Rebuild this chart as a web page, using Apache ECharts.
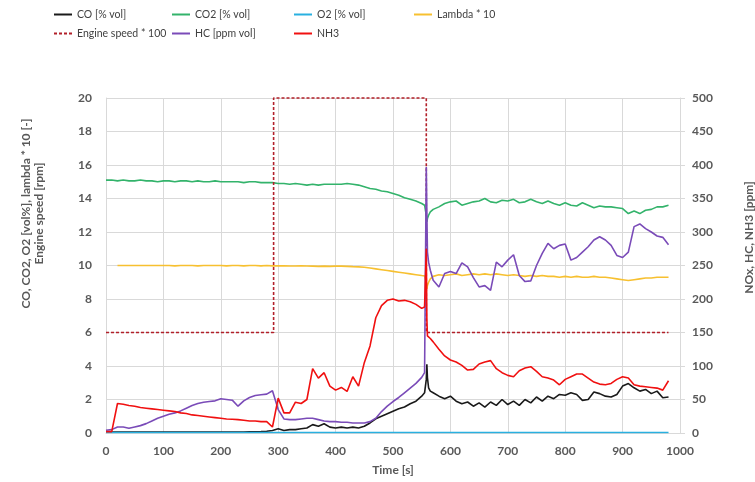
<!DOCTYPE html>
<html>
<head>
	<meta charset="utf-8" />
	<title>Emissions</title>
	<script src="https://cdn.jsdelivr.net/npm/echarts@6/dist/echarts.min.js"></script>
</head>
<body style="margin:0;background:#fff;">
	<div id="main" style="width: 755px;height: 482px;"></div>
	<script type="text/javascript">

		// time axis [s]
		var timeS = [
			0,10,20,30,40,50,60,70,80,90,
			100,110,120,130,140,150,160,170,180,190,
			200,210,220,230,240,250,260,270,280,290,
			300,310,320,330,340,350,360,370,380,390,
			400,410,420,430,440,450,460,470,480,490,
			500,510,520,530,540,550,555,558,559,560,
			562,565,570,580,590,600,610,620,630,640,
			650,660,670,680,690,700,710,720,730,740,
			750,760,770,780,790,800,810,820,830,840,
			850,860,870,880,890,900,910,920,930,940,
			950,960,970,980
		];

		// left axis series
		var co = [
			0.05,0.05,0.05,0.05,0.05,0.05,0.05,0.05,0.05,0.05,
			0.05,0.05,0.05,0.05,0.05,0.05,0.05,0.05,0.05,0.05,
			0.05,0.05,0.06,0.06,0.06,0.07,0.07,0.08,0.1,0.15,
			0.25,0.15,0.2,0.2,0.25,0.3,0.5,0.4,0.55,0.35,
			0.3,0.35,0.3,0.35,0.3,0.4,0.6,0.85,1.0,1.15,
			1.3,1.45,1.55,1.75,1.9,2.2,2.4,3.2,4.1,3.3,
			2.7,2.5,2.4,2.2,2.05,2.2,1.9,1.75,1.85,1.6,
			1.8,1.55,1.85,1.65,2.0,1.7,1.9,1.65,2.0,1.8,
			2.15,1.9,2.2,2.05,2.3,2.25,2.4,2.3,1.95,2.0,
			2.45,2.35,2.2,2.15,2.3,2.8,2.95,2.7,2.5,2.6,
			2.35,2.5,2.1,2.15
		];
		var co2 = [
			15.1,15.1,15.05,15.1,15.05,15.05,15.1,15.05,15.05,15.0,
			15.05,15.05,15.0,15.05,15.05,15.0,15.05,15.0,15.0,15.05,
			15.0,15.0,15.0,15.0,14.95,15.0,15.0,14.95,14.95,14.95,
			14.9,14.9,14.85,14.9,14.85,14.8,14.85,14.8,14.85,14.85,
			14.85,14.85,14.9,14.85,14.8,14.7,14.6,14.55,14.45,14.4,
			14.3,14.2,14.05,13.95,13.85,13.7,13.6,13.0,12.6,12.8,
			13.0,13.2,13.35,13.5,13.7,13.8,13.85,13.6,13.7,13.8,
			13.85,14.0,13.8,13.75,13.9,13.85,13.95,13.75,13.8,13.95,
			13.8,13.7,13.85,13.7,13.6,13.75,13.6,13.55,13.75,13.6,
			13.45,13.55,13.5,13.5,13.45,13.4,13.1,13.25,13.1,13.3,
			13.35,13.5,13.5,13.6
		];
		var o2 = [
			0.03,0.03,0.03,0.03,0.03,0.03,0.03,0.03,0.03,0.03,
			0.03,0.03,0.03,0.03,0.03,0.03,0.03,0.03,0.03,0.03,
			0.03,0.03,0.03,0.03,0.03,0.03,0.03,0.03,0.03,0.03,
			0.03,0.03,0.03,0.03,0.03,0.03,0.03,0.03,0.03,0.03,
			0.03,0.03,0.03,0.03,0.03,0.03,0.03,0.03,0.03,0.03,
			0.03,0.03,0.03,0.03,0.03,0.03,0.03,0.03,0.03,0.03,
			0.03,0.03,0.03,0.03,0.03,0.03,0.03,0.03,0.03,0.03,
			0.03,0.03,0.03,0.03,0.03,0.03,0.03,0.03,0.03,0.03,
			0.03,0.03,0.03,0.03,0.03,0.03,0.03,0.03,0.03,0.03,
			0.03,0.03,0.03,0.03,0.03,0.03,0.03,0.03,0.03,0.03,
			0.03,0.03,0.03,0.03
		];
		var lambda10 = [
			null,null,10.0,10.0,10.0,10.0,10.0,10.0,10.0,10.0,
			10.0,10.0,9.98,10.0,10.0,10.0,9.98,10.0,10.0,10.0,
			10.0,9.98,10.0,10.0,9.98,10.0,10.0,9.98,10.0,9.98,
			9.98,9.98,9.97,9.97,9.98,9.97,9.96,9.95,9.96,9.95,
			9.96,9.96,9.95,9.93,9.92,9.9,9.85,9.8,9.75,9.7,
			9.65,9.6,9.55,9.5,9.45,9.4,9.38,9.0,8.6,8.8,
			9.0,9.2,9.35,9.45,9.4,9.45,9.5,9.4,9.45,9.5,
			9.45,9.5,9.45,9.5,9.45,9.4,9.45,9.4,9.35,9.4,
			9.35,9.4,9.35,9.35,9.3,9.35,9.3,9.35,9.3,9.3,
			9.35,9.3,9.3,9.25,9.2,9.15,9.1,9.15,9.2,9.25,
			9.25,9.3,9.3,9.3
		];
		var engineTime = [0, 292, 292, 558, 558, 980];
		var engineSpeed = [6, 6, 20, 20, 6, 6];

		// right axis series [ppm]
		var hc = [
			4,5,9,9,7,9,11,14,18,22,
			25,28,30,33,37,41,44,46,47,48,
			51,50,49,40,48,53,56,57,58,63,
			35,21,20,20,21,22,22,20,18,17,
			17,16,16,15,15,15,17,22,32,40,
			47,53,60,67,74,83,90,397,330,270,
			255,243,228,218,238,241,238,254,248,232,
			218,220,213,255,248,258,266,235,226,227,
			250,268,283,275,280,282,258,262,270,278,
			288,293,288,280,265,262,270,308,312,305,
			300,294,292,281
		];
		var nh3 = [
			2,2,44,43,41,40,38,37,36,35,
			34,33,32,30,29,27,26,25,24,23,
			22,21,20.5,20,19,18,18,17,17,9,
			52,30,30,46,44,50,96,82,90,70,
			64,68,62,84,70,105,130,172,190,198,
			200,197,198,196,192,186,188,275,170,145,
			143,141,136,125,115,109,106,101,94,95,
			103,106,108,96,90,86,84,93,97,99,
			92,84,82,79,72,80,84,88,88,82,
			76,73,72,74,80,84,82,72,70,69,
			68,67,64,78
		];

		function pairs(xs, ys) {
			return xs.map(function(x, i) { return [x, ys[i]]; });
		}

		var myChart = echarts.init(document.getElementById("main"));

		var fontName = 'Lato';
		var gridColor = '#d9d9d9';
		var labelColor = '#595959';
		var legendText = {fontFamily: fontName, fontSize: 10.5, color: '#404040'};

		function lineSeries(name, data, color, axis, extra) {
			var s = {
				name: name,
				type: 'line',
				yAxisIndex: axis,
				data: data,
				symbol: 'none',
				connectNulls: false,
				animation: false,
				lineStyle: {color: color, width: 1.6},
				itemStyle: {color: color}
			};
			for (var k in extra) s[k] = extra[k];
			return s;
		}

		// one legend per column, like the excel layout
		function legendCol(left, names) {
			return {
				left: left, top: 4, orient: 'vertical',
				itemGap: 8, itemWidth: 18, itemHeight: 10, itemStyle: {opacity: 0},
				textStyle: legendText, data: names
			};
		}

		var option = {
			backgroundColor: '#fff',
			legend: [
				legendCol(48, ['CO [% vol]', 'Engine speed * 100']),
				legendCol(166, ['CO2 [% vol]', 'HC [ppm vol]']),
				legendCol(288, ['O2 [% vol]', 'NH3']),
				legendCol(408, ['Lambda * 10'])
			],
			grid: {left: 106, right: 75, top: 98, bottom: 49, outerBoundsMode: 'none'},
			xAxis: {
				type: 'value',
				min: 0,
				max: 1000,
				interval: 100,
				name: 'Time [s]',
				nameLocation: 'middle',
				nameGap: 31,
				nameTextStyle: {fontFamily: fontName, fontSize: 12, fontWeight: 'bold', color: labelColor},
				axisLine: {show: true, lineStyle: {color: gridColor}},
				axisTick: {show: false},
				axisLabel: {fontFamily: fontName, fontSize: 12, fontWeight: 'bold', color: labelColor, margin: 12,
					formatter: function(v) { return String(v); }},
				splitLine: {show: true, lineStyle: {color: gridColor}}
			},
			yAxis: [
				{
					type: 'value',
					min: 0,
					max: 20,
					interval: 2,
					name: 'CO, CO2, O2 [vol%], lambda * 10 [-]\nEngine speed [rpm]',
					nameLocation: 'middle',
					nameRotate: 90,
					nameGap: 60,
					// left padding lifts the rotated title up
					nameTextStyle: {fontFamily: fontName, fontSize: 12, fontWeight: 'bold', color: labelColor, lineHeight: 13, padding: [0, 0, 0, 104]},
					axisLine: {show: true, lineStyle: {color: gridColor}},
					axisTick: {show: false},
					axisLabel: {fontFamily: fontName, fontSize: 12, fontWeight: 'bold', color: labelColor, margin: 14},
					splitLine: {show: true, lineStyle: {color: gridColor}}
				},
				{
					type: 'value',
					min: 0,
					max: 500,
					interval: 50,
					name: 'NOx, HC, NH3 [ppm]',
					nameLocation: 'middle',
					nameRotate: 90,
					nameGap: 63,
					nameTextStyle: {fontFamily: fontName, fontSize: 12, fontWeight: 'bold', color: labelColor, padding: [0, 0, 0, 56]},
					axisLine: {show: true, lineStyle: {color: gridColor}},
					axisTick: {show: true, inside: false, length: 5, lineStyle: {color: gridColor}},
					axisLabel: {fontFamily: fontName, fontSize: 12, fontWeight: 'bold', color: labelColor, margin: 12},
					splitLine: {show: false}
				}
			],
			series: [
				lineSeries('CO [% vol]', pairs(timeS, co), '#1a1a1a', 0),
				lineSeries('CO2 [% vol]', pairs(timeS, co2), '#33b36b', 0),
				lineSeries('O2 [% vol]', pairs(timeS, o2), '#29b0e0', 0),
				lineSeries('Lambda * 10', pairs(timeS, lambda10), '#f7c030', 0),
				lineSeries('Engine speed * 100', pairs(engineTime, engineSpeed), '#b2202a', 0, {
					clip: false,
					lineStyle: {color: '#b2202a', width: 1.6, type: [3, 2]}
				}),
				lineSeries('HC [ppm vol]', pairs(timeS, hc), '#7a4bb8', 1),
				lineSeries('NH3', pairs(timeS, nh3), '#f01010', 1)
			]
		};

		myChart.setOption(option);

	</script>
</body>
</html>
